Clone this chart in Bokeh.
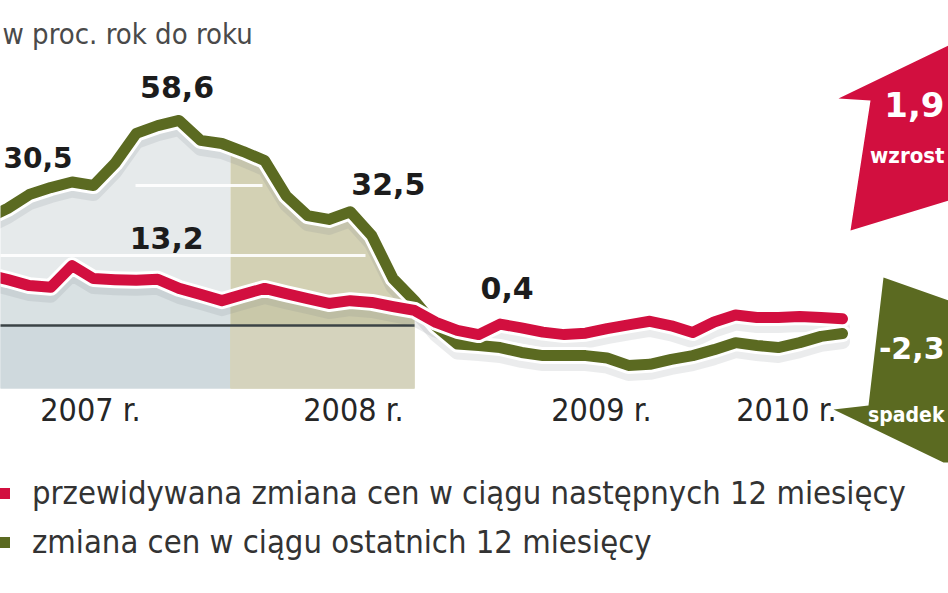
import numpy as np
import pandas as pd
from bokeh.plotting import figure
from bokeh.models import Range1d, Legend, LegendItem
from bokeh.core.properties import value
from bokeh.embed import file_html
from bokeh.resources import INLINE

# ---------------- data ----------------
months = [str(p) for p in pd.period_range("2006-08", "2009-12", freq="M")]
# predicted change of prices in the next 12 months (red)
expected = [14.6, 13.1, 11.4, 10.9, 17.1, 13.4, 13.1, 12.9, 13.2, 10.6,
            8.9, 7.1, 8.9, 10.6, 9.1, 7.7, 6.3, 7.1, 6.6, 5.4,
            4.3, 0.9, -1.4, -2.6, 0.4, -0.7, -1.9, -2.6, -2.2, -0.9,
            0.2, 1.2, -0.1, -2.0, 1.0, 3.0, 2.3, 2.3, 2.6, 2.3, 1.9]
# change of prices in the last 12 months (green)
past = [30.5, 33.5, 37.4, 39.4, 41.0, 40.0, 46.3, 54.9, 57.1, 58.6,
        52.9, 52.0, 49.7, 47.1, 37.1, 31.4, 30.3, 32.5, 25.7, 13.4,
        7.1, -0.2, -5.3, -5.7, -6.3, -7.7, -8.6, -8.6, -8.6, -9.3,
        -11.4, -11.1, -9.7, -8.6, -6.9, -4.9, -5.7, -6.3, -4.9, -3.1, -2.3]
year_labels = ["2007 r.", "2008 r.", "2009 r.", "2010 r."]
series_names = ["przewidywana zmiana cen w ciągu następnych 12 miesięcy",
                "zmiana cen w ciągu ostatnich 12 miesięcy"]
unit_title = "w proc. rok do roku"
arrow_words = ["wzrost", "spadek"]

RED = "#d20f3f"
GREEN = "#5b6a21"
COND_NAME = "DejaVu Sans Condensed, Liberation Sans Narrow, Roboto, sans-serif"
COND = value(COND_NAME)
BOLD = value("DejaVu Sans, sans-serif")

# month index, January 2007 = 0
x = np.arange(len(months)) - months.index("2007-01")
red = np.array(expected)
grn = np.array(past)

# screen <-> data helpers (chart geometry)
X0, DX, Y0, DY = 93.0, 21.4, 325.0, 3.5
def px(xp): return (xp - X0) / DX
def py(yp): return (Y0 - yp) / DY

W, H = 948, 593
p = figure(width=W, height=H, output_backend="svg", toolbar_location=None,
           x_range=Range1d(px(0), px(W)), y_range=Range1d(py(H), py(0)),
           x_axis_type=None, y_axis_type=None, min_border=0,
           outline_line_color=None, background_fill_color="white",
           border_fill_color="white")
p.xgrid.visible = False
p.ygrid.visible = False

# ---------------- background panels ----------------
m_split, m_end = px(230), 15
bottom = py(388)
mA = np.concatenate([x[x < m_split], [m_split]])
gA = np.interp(mA, x, grn)
p.varea(x=mA, y1=bottom, y2=gA, fill_color="#e6eaeb")
p.varea(x=mA, y1=bottom, y2=np.interp(mA, x, red), fill_color="#d6dee1", fill_alpha=0.8)
p.varea(x=mA, y1=bottom, y2=0, fill_color="#cbd6da", fill_alpha=0.7)

mB = np.concatenate([[m_split], x[(x > m_split) & (x <= m_end)]])
gB = np.interp(mB, x, grn)
p.varea(x=mB, y1=bottom, y2=gB, fill_color="#d3d1b4")
p.varea(x=mB, y1=bottom, y2=np.interp(mB, x, red), fill_color="#c7c5a6", fill_alpha=0.8)
p.varea(x=mB, y1=bottom, y2=0, fill_color="#d8d6c2", fill_alpha=0.8)

# light grid lines inside the panel
p.segment(x0=[x[0], px(135)], y0=[20, 40], x1=[px(365), px(262)], y1=[20, 40],
          line_color="white", line_width=3, line_alpha=0.9)
# zero line
p.segment(x0=[x[0]], y0=[0], x1=[px(414)], y1=[0], line_color="#3b4346", line_width=2.5)

# ---------------- lines ----------------
shift = 8 / DY
for ser in (grn, red):
    p.line(x, ser - shift, line_color="#7a7f85", line_alpha=0.15, line_width=15,
           line_join="round", line_cap="round")
p.line(x, grn, line_color="white", line_width=17, line_join="round", line_cap="round")
r_g = p.line(x, grn, line_color=GREEN, line_width=11, line_join="round", line_cap="round")
p.line(x, red, line_color="white", line_width=17, line_join="round", line_cap="round")
r_r = p.line(x, red, line_color=RED, line_width=11, line_join="round", line_cap="round")

# ---------------- value labels ----------------
def fmt(v):
    return f"{v:.1f}".replace(".", ",")

idx_g = [months.index("2007-05"), months.index("2008-01")]
idx_r = [months.index("2007-04"), months.index("2008-08")]
lab_x = [x[i] for i in idx_g] + [x[i] for i in idx_r]
lab_y = [grn[i] for i in idx_g] + [red[i] for i in idx_r]
lab_t = [fmt(v) for v in lab_y]
p.text(x=lab_x, y=lab_y, text=lab_t, x_offset=[-2, 38, 9, 7], y_offset=[-33, -28, -41, -36],
       text_font=BOLD, text_font_style="bold", text_font_size="30px",
       text_color="#1c1c1c", text_align="center", text_baseline="middle")
# first value, at the left edge
p.text(x=[px(3)], y=[py(157)], text=[fmt(grn[0])],
       text_font=BOLD, text_font_style="bold", text_font_size="28px",
       text_color="#1c1c1c", text_align="left", text_baseline="middle")

# ---------------- year labels ----------------
p.text(x=[px(90), px(353), px(601), px(786)], y=[py(409)] * 4, text=year_labels,
       text_font=COND, text_font_size="32px", text_color="#262626",
       text_align="center", text_baseline="middle")

# ---------------- title ----------------
p.text(x=[px(2)], y=[py(33)], text=[unit_title], text_font=COND, text_font_size="29px",
       text_color="#4a4a4a", text_align="left", text_baseline="middle")

# ---------------- arrows on the right ----------------
red_arrow = [(838, 98), (948, 45), (948, 200), (850, 230), (870, 100)]
grn_arrow = [(883, 277), (948, 300), (948, 462), (943, 462), (833, 409), (868, 405)]
p.patch([px(a) for a, b in red_arrow], [py(b) for a, b in red_arrow],
        fill_color=RED, line_color=None)
p.patch([px(a) for a, b in grn_arrow], [py(b) for a, b in grn_arrow],
        fill_color=GREEN, line_color=None)
p.text(x=[px(944), px(944)], y=[py(104), py(347)], text=[fmt(red[-1]), fmt(grn[-1])],
       text_font=BOLD, text_font_style="bold", text_font_size=["34px", "30px"],
       text_color="white", text_align="right", text_baseline="middle")
p.text(x=[px(944), px(944)], y=[py(155), py(414)], text=arrow_words,
       text_font=value("DejaVu Sans Condensed, DejaVu Sans, sans-serif"),
       text_font_style="bold", text_font_size=["22px", "21px"], text_color="white",
       text_align="right", text_baseline="middle")

# ---------------- legend ----------------
legend = Legend(items=[LegendItem(label=series_names[0], renderers=[r_r]),
                       LegendItem(label=series_names[1], renderers=[r_g])],
                location=(-6, 29), orientation="vertical",
                label_text_font=COND_NAME, label_text_font_size="32.5px",
                label_text_color="#333333", glyph_width=16, glyph_height=44,
                label_height=44, spacing=5, padding=0, margin=0, label_standoff=22,
                background_fill_alpha=0, border_line_color=None)
p.add_layout(legend, "center")

open("out.html", "w").write(file_html(p, INLINE))
